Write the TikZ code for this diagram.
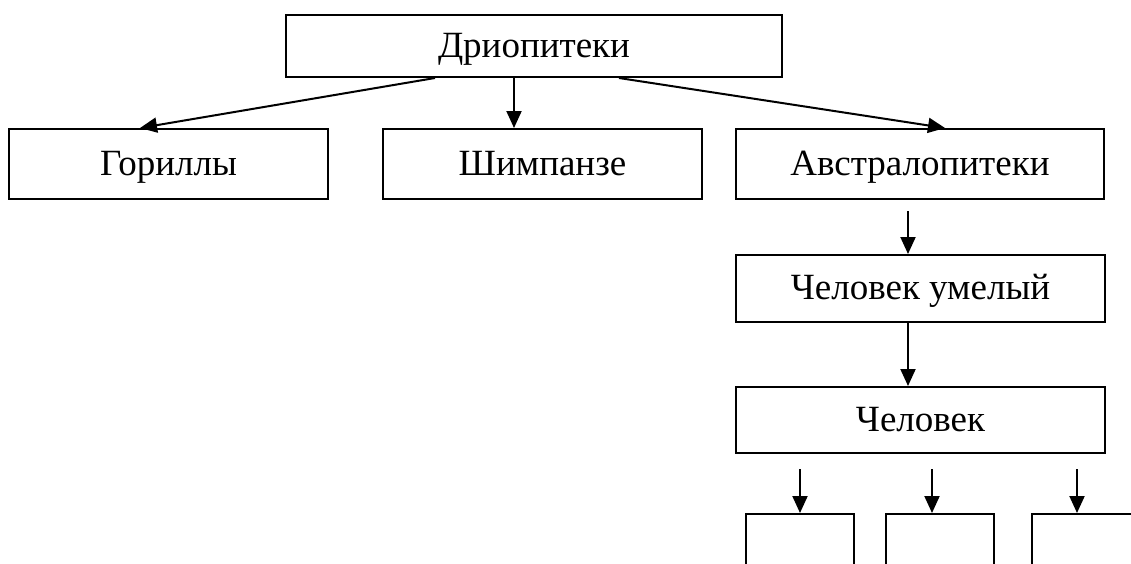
\documentclass[tikz,border=0pt]{standalone}
\usepackage{fontspec}
\setmainfont{Liberation Serif}
\usetikzlibrary{arrows.meta,positioning}
\tikzset{
  box/.style={draw, line width=2pt, inner sep=0pt, text height=26pt, text depth=4pt,
    font=\fontsize{37}{43}\selectfont},
  arr/.style={line width=2pt, -{Triangle[length=17pt,width=15pt]}}
}

\begin{document}
\begin{tikzpicture}[x=1pt, y=-1pt]
    % рамка рисунка
    \useasboundingbox (0,0) rectangle (1131,563);
    \clip (0,0) rectangle (1131,563);

    % верхний блок
    \node[box, minimum width=496pt, minimum height=62pt] (drio) at (534,46) {Дриопитеки};

    % второй ряд
    \node[box, minimum width=319pt, minimum height=70pt] (gor) at (168.5,164) {Гориллы};
    \node[box, minimum width=319pt, minimum height=70pt] (shimp) at (542.5,164) {Шимпанзе};
    \node[box, minimum width=368pt, minimum height=70pt] (avstr) at (920,164) {Австралопитеки};

    % правая ветвь
    \node[box, minimum width=369pt, minimum height=67pt] (umel) at (920.5,288.5) {Человек умелый};
    \node[box, minimum width=369pt, minimum height=66pt] (chel) at (920.5,420) {Человек};

    % пустые блоки внизу
    \node[box, minimum width=108pt, minimum height=90pt, anchor=north] (e1) at (800,513) {};
    \node[box, minimum width=108pt, minimum height=90pt, anchor=north] (e2) at (940,513) {};
    \node[box, minimum width=108pt, minimum height=90pt, anchor=north] (e3) at (1086,513) {};

    % стрелки от дриопитеков
    \draw[arr] ([xshift=-99pt]drio.south) -- ([xshift=-28.5pt]gor.north);
    \draw[arr] ([xshift=-20pt]drio.south) -- ([xshift=-28.5pt]shimp.north);
    \draw[arr] ([xshift=85pt]drio.south) -- ([xshift=25pt]avstr.north);

    % стрелки вниз по правой ветви
    \draw[arr] ([xshift=-12pt,yshift=-11pt]avstr.south) -- ([xshift=-12.5pt]umel.north);
    \draw[arr] ([xshift=-12.5pt]umel.south) -- ([xshift=-12.5pt]chel.north);

    % стрелки к пустым блокам
    \draw[arr] ([yshift=-15pt]chel.south -| e1.north) -- (e1.north);
    \draw[arr] ([yshift=-15pt]chel.south -| 932,0) -- (e2.north -| 932,0);
    \draw[arr] ([yshift=-15pt]chel.south -| 1077,0) -- (e3.north -| 1077,0);
\end{tikzpicture}
\end{document}
